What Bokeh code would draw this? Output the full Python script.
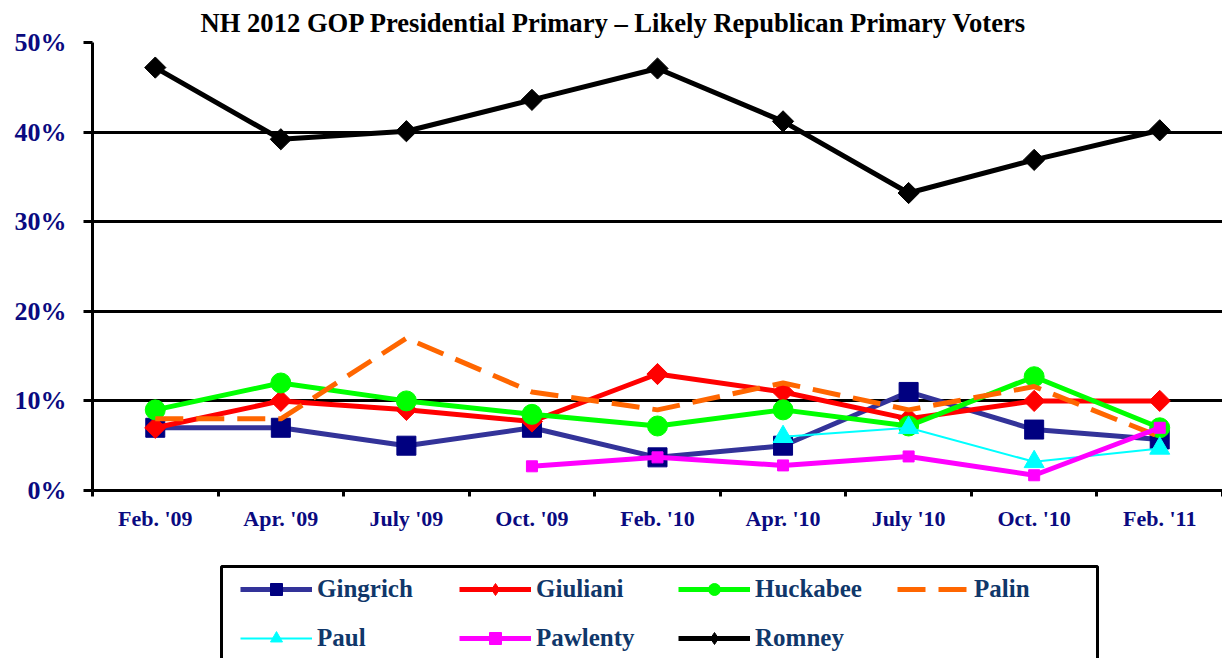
import math
from bokeh.plotting import figure
from bokeh.layouts import column
from bokeh.models import (ColumnDataSource, Legend, LegendItem, FixedTicker,
                          PrintfTickFormatter, Range1d, BoxAnnotation)
from bokeh.embed import file_html
from bokeh.resources import INLINE

nan = float("nan")

categories = ["Feb. '09", "Apr. '09", "July '09", "Oct. '09", "Feb. '10",
              "Apr. '10", "July '10", "Oct. '10", "Feb. '11"]
gingrich = [7, 7, 5, 7, 3.7, 5, 11, 6.8, 5.7]
giuliani = [7, 10, 9, 7.7, 13, 11, 8, 10, 10]
huckabee = [9, 12, 10, 8.5, 7.2, 9, 7.2, 12.7, 7]
palin = [8, 8, 17, 11, 9, 12, 9, 11.6, 6]
paul = [nan, nan, nan, nan, nan, 6, 7, 3.2, 4.7]
pawlenty = [nan, nan, nan, 2.7, 3.7, 2.8, 3.8, 1.7, 7]
romney = [47.2, 39.2, 40.1, 43.6, 47.1, 41.2, 33.2, 36.9, 40.2]
y_ticks = [0, 10, 20, 30, 40, 50]
title_text = "NH 2012 GOP Presidential Primary \u2013 Likely Republican Primary Voters"

xs = list(range(len(categories)))
SERIF = "Liberation Serif"
NAVY = "#0A0A80"
LEGEND_TEXT = "#10376A"

W = 1222
p = figure(width=W, height=540, output_backend="svg", toolbar_location=None,
           x_range=Range1d(-0.5, len(categories) - 0.5), y_range=Range1d(0, 50),
           min_border_left=92, min_border_right=0, min_border_top=42,
           min_border_bottom=50)
p.outline_line_color = None
p.background_fill_color = "white"
p.border_fill_color = "white"

p.title.text = title_text
p.title.align = "left"
p.title.offset = 108
p.title.standoff = 10
p.title.text_font = SERIF
p.title.text_font_style = "bold"
p.title.text_font_size = "26.6px"
p.title.text_color = "black"

# axes
p.xaxis.ticker = FixedTicker(ticks=xs, minor_ticks=[i - 0.5 for i in range(len(categories) + 1)])
p.xaxis.major_label_overrides = {i: c for i, c in enumerate(categories)}
p.xaxis.major_tick_line_color = None
p.xaxis.major_tick_out = 6
p.xaxis.major_tick_in = 0
p.xaxis.minor_tick_line_color = "black"
p.xaxis.minor_tick_line_width = 3
p.xaxis.minor_tick_out = 6
p.xaxis.minor_tick_in = 0
p.xaxis.major_label_standoff = 9
p.xaxis.major_label_text_font = SERIF
p.xaxis.major_label_text_font_style = "bold"
p.xaxis.major_label_text_font_size = "22px"
p.xaxis.major_label_text_color = NAVY

p.yaxis.ticker = FixedTicker(ticks=y_ticks)
p.yaxis.formatter = PrintfTickFormatter(format="%d%%")
p.yaxis.major_tick_out = 9
p.yaxis.major_tick_in = 0
p.yaxis.major_tick_line_width = 3
p.yaxis.major_tick_line_color = "black"
p.yaxis.minor_tick_line_color = None
p.yaxis.major_label_standoff = 17
p.yaxis.major_label_text_font = SERIF
p.yaxis.major_label_text_font_style = "bold"
p.yaxis.major_label_text_font_size = "26px"
p.yaxis.major_label_text_color = NAVY

p.axis.axis_line_color = "black"
p.axis.axis_line_width = 3

p.xgrid.visible = False
p.ygrid.grid_line_color = "black"
p.ygrid.grid_line_width = 3

# legend panel: a second figure whose range (in pixels, offset far from the
# series data) keeps the shared series out of view; only the legend shows.
OFF = 1000
QW, QH = W - 92, 118
q = figure(width=W, height=QH, output_backend="svg", toolbar_location=None,
           x_range=Range1d(OFF, OFF + QW), y_range=Range1d(OFF, OFF + QH),
           x_axis_location=None, y_axis_location=None,
           min_border_left=92, min_border_right=0, min_border_top=0,
           min_border_bottom=0)
q.outline_line_color = None
q.grid.visible = False
q.background_fill_color = "white"
q.border_fill_color = "white"
# legend frame: left 221, right 1097, top 566 (page px), open at bottom
q.add_layout(BoxAnnotation(left=OFF + 129, right=OFF + 1005, top=OFF + 92,
                           bottom=OFF - 20, fill_alpha=0, line_color="black",
                           line_alpha=1.0, line_width=3))

items = []
ROT = math.pi / 4

def add_series(name, vals, line_color, lw, marker=None, msize=0, mcolor=None,
               dash="solid", angle=0.0, legend_marker=None):
    src = ColumnDataSource(dict(x=xs, y=vals))
    p.line("x", "y", source=src, line_color=line_color, line_width=lw,
           line_dash=dash, line_join="round")
    rs = [q.line("x", "y", source=src, line_color=line_color, line_width=lw,
                 line_dash=dash)]
    if marker:
        p.scatter("x", "y", source=src, marker=marker, size=msize, angle=angle,
                  fill_color=mcolor, line_color=mcolor)
        rs.append(q.scatter("x", "y", source=src, marker=legend_marker or marker,
                            size=msize, fill_color=mcolor, line_color=mcolor))
    items.append(LegendItem(label=name, renderers=rs))

add_series("Gingrich", gingrich, "#333399", 5, "square", 19, "#000080")
add_series("Giuliani", giuliani, "#FF0000", 5, "square", 15, "#FF0000", angle=ROT,
           legend_marker="diamond")
add_series("Huckabee", huckabee, "#00FF00", 5, "circle", 20, "#00FF00")
add_series("Palin", palin, "#FF6600", 5, dash="28 13")
add_series("Paul", paul, "#00FFFF", 2, "triangle", 20, "#00FFFF")
add_series("Pawlenty", pawlenty, "#FF00FF", 5, "square", 11, "#FF00FF")
add_series("Romney", romney, "#000000", 5, "square", 15, "#000000", angle=ROT,
           legend_marker="diamond")

legend = Legend(items=items, location=(148, 5), orientation="horizontal", ncols=4,
                border_line_color=None, background_fill_alpha=0, padding=0, margin=0,
                glyph_width=72, glyph_height=30, label_height=30, label_width=123,
                label_standoff=5, spacing=19,
                label_text_font=SERIF, label_text_font_style="bold",
                label_text_font_size="25px", label_text_color=LEGEND_TEXT)
q.add_layout(legend, "center")

layout = column(p, q, spacing=0)
open("out.html", "w").write(file_html(layout, INLINE))
